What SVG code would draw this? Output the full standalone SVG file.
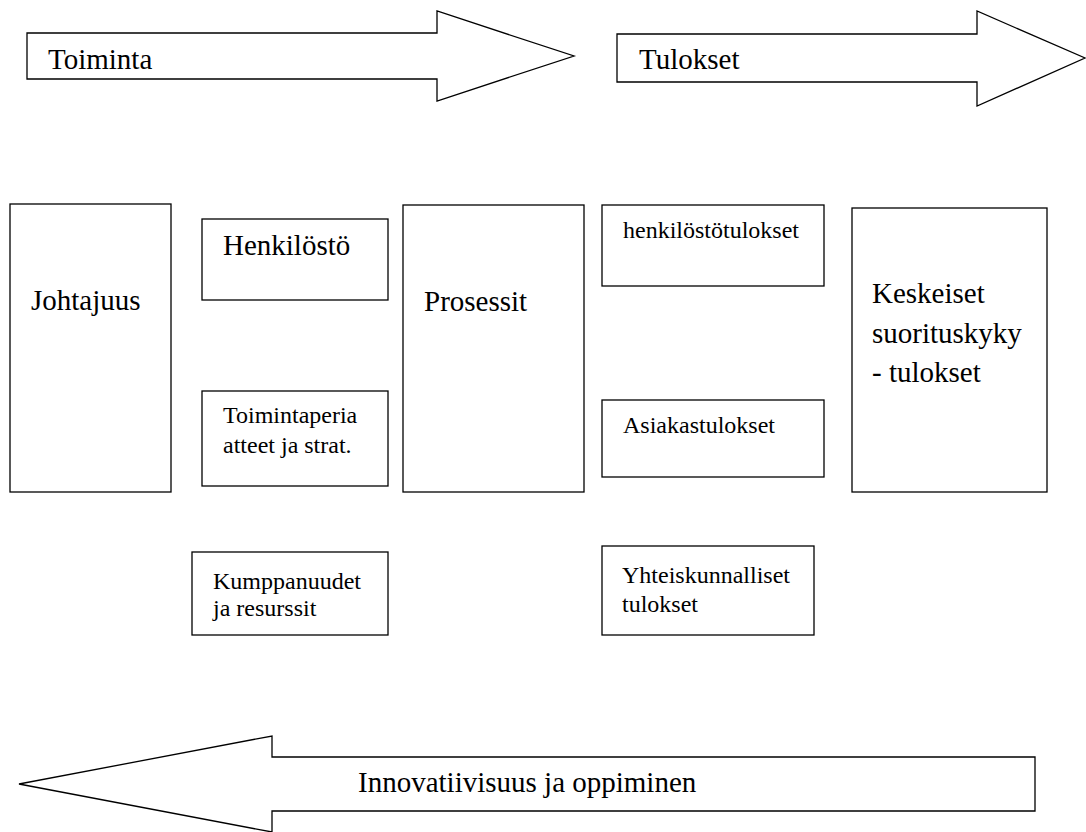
<svg xmlns="http://www.w3.org/2000/svg" width="1086" height="832" viewBox="0 0 1086 832">
<style>
.s{fill:#fff;stroke:#000;stroke-width:1.3}
.t{font-family:"Liberation Serif","Times New Roman",serif;fill:#000}
.L{font-size:29px}
.M{font-size:24px}
</style>
<rect width="1086" height="832" fill="#fff"/>
<g id="arrow-toiminta">
<polygon class="s" points="27,33 437,33 437,11 574,56 437,101 437,79 27,79"/>
<text class="t L" x="48" y="69">Toiminta</text>
</g>
<g id="arrow-tulokset">
<polygon class="s" points="617,34 977,34 977,11 1085,58 977,106 977,82 617,82"/>
<text class="t L" x="639" y="69">Tulokset</text>
</g>
<g id="johtajuus">
<rect class="s" x="10" y="204" width="161" height="288"/>
<text class="t L" x="31" y="310">Johtajuus</text>
</g>
<g id="henkilosto">
<rect class="s" x="202" y="219" width="186" height="81"/>
<text class="t L" x="223" y="255">Henkilöstö</text>
</g>
<g id="toimintaperiaatteet">
<rect class="s" x="202" y="391" width="186" height="95"/>
<text class="t M" x="223" y="423">Toimintaperia</text>
<text class="t M" x="223" y="453">atteet ja strat.</text>
</g>
<g id="kumppanuudet">
<rect class="s" x="192" y="552" width="196" height="83"/>
<text class="t M" x="213" y="589">Kumppanuudet</text>
<text class="t M" x="213" y="616">ja resurssit</text>
</g>
<g id="prosessit">
<rect class="s" x="403" y="205" width="181" height="287"/>
<text class="t L" x="424" y="311">Prosessit</text>
</g>
<g id="henkilostotulokset">
<rect class="s" x="602" y="205" width="222" height="81"/>
<text class="t M" x="623" y="238">henkilöstötulokset</text>
</g>
<g id="asiakastulokset">
<rect class="s" x="602" y="400" width="222" height="77"/>
<text class="t M" x="623" y="433">Asiakastulokset</text>
</g>
<g id="yhteiskunnalliset">
<rect class="s" x="602" y="546" width="212" height="89"/>
<text class="t M" x="622" y="583">Yhteiskunnalliset</text>
<text class="t M" x="622" y="612">tulokset</text>
</g>
<g id="keskeiset">
<rect class="s" x="852" y="208" width="195" height="284"/>
<text class="t L" x="872" y="303">Keskeiset</text>
<text class="t L" x="872" y="343">suorituskyky</text>
<text class="t L" x="872" y="382">- tulokset</text>
</g>
<g id="arrow-innovatiivisuus">
<polygon class="s" points="1035,757 272,757 272,736 19,784 272,832 272,811 1035,811"/>
<text class="t L" x="358" y="792">Innovatiivisuus ja oppiminen</text>
</g>
<g id="connectors"></g>
</svg>
